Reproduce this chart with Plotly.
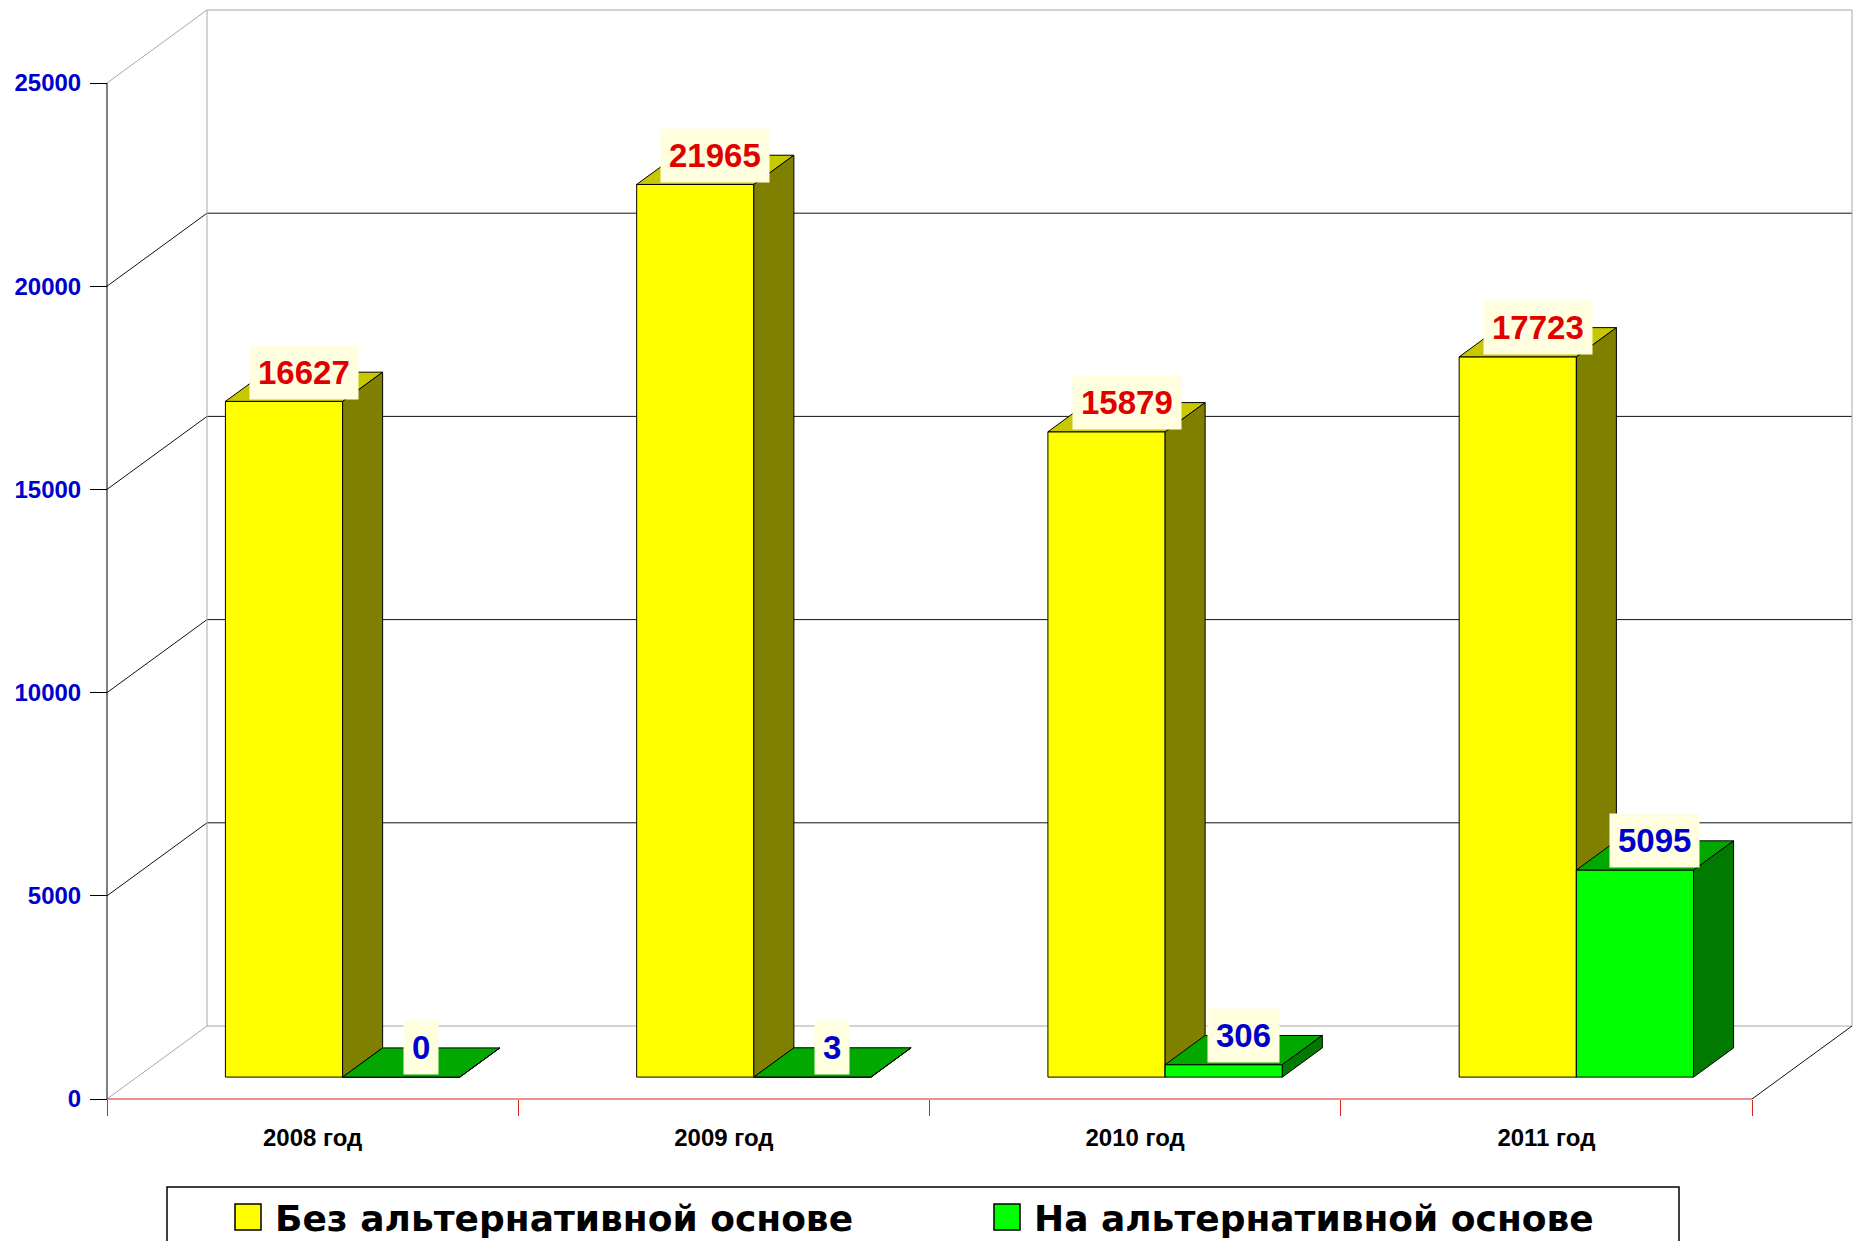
import plotly.graph_objects as go

# ---- data -------------------------------------------------------------
categories = ["2008 год", "2009 год", "2010 год", "2011 год"]
series_names = ["Без альтернативной основе", "На альтернативной основе"]
values_plain = [16627, 21965, 15879, 17723]
values_alt = [0, 3, 306, 5095]
y_ticks = [0, 5000, 10000, 15000, 20000, 25000]
y_tick_labels = ["0", "5000", "10000", "15000", "20000", "25000"]

# ---- canvas / pseudo-3D frame ------------------------------------------
W, H = 1856, 1241
ORIGIN_X, ORIGIN_Y = 107, 1099          # pixel of (category 0, value 0) on the front plane
PX_PER_CAT = 411.25                      # pixels per category slot
PX_PER_VAL = 1016 / 25000                # pixels per value unit
DEPTH_DX_PX, DEPTH_DY_PX = 100, 73       # oblique depth offset of the back wall

DU = DEPTH_DX_PX / PX_PER_CAT            # depth offset in x data units
DV = DEPTH_DY_PX / PX_PER_VAL            # depth offset in y data units
Y_TOP = y_ticks[-1]
N = len(categories)

BAR_W = 0.285                            # bar width in category units
D_FRONT, D_BACK = 0.3, 0.7               # depth slab occupied by the bars

STYLE = [
    dict(front="#FFFF00", top="#C8C800", side="#808000",
         label="#E00000", legend="#FFFF00"),
    dict(front="#00FF00", top="#00A800", side="#007A00",
         label="#0000CC", legend="#00FF00"),
]


def P(u, v, d):
    """Project (category position, value, depth 0..1) onto the 2D axes."""
    return u + d * DU, v + d * DV


fig = go.Figure()


def seg(points, color, width=1, dash="solid"):
    xs, ys = zip(*[P(*p) for p in points])
    fig.add_trace(go.Scatter(x=xs, y=ys, mode="lines",
                             line=dict(color=color, width=width, dash=dash),
                             hoverinfo="skip", showlegend=False))


def face(points, fill):
    pts = [P(*p) for p in points]
    pts.append(pts[0])
    xs, ys = zip(*pts)
    fig.add_trace(go.Scatter(x=xs, y=ys, mode="lines", fill="toself",
                             fillcolor=fill, line=dict(color="#000000", width=1),
                             hoverinfo="skip", showlegend=False))


LIGHT = "#A8A8A8"
DARK = "#111111"

# back wall gridlines and borders
for v in y_ticks:
    col = LIGHT if v in (0, Y_TOP) else DARK
    seg([(0, v, 1), (N, v, 1)], col)
    seg([(0, v, 0), (0, v, 1)], col)          # left wall diagonals
seg([(0, 0, 1), (0, Y_TOP, 1)], LIGHT)        # back wall left edge
seg([(N, 0, 1), (N, Y_TOP, 1)], LIGHT)        # back wall right edge
seg([(N, 0, 0), (N, 0, 1)], DARK)             # floor right edge

# front axes
seg([(0, 0, 0), (0, Y_TOP, 0)], "#000000")
seg([(0, 0, 0), (N, 0, 0)], "#DD2020")

# bars (front, top, side faces), yellow drawn first so green overlaps its side
annotations = []
for i in range(N):
    for s, vals in enumerate([values_plain, values_alt]):
        v = vals[i]
        st = STYLE[s]
        u0 = i + 0.5 - BAR_W + s * BAR_W
        u1 = u0 + BAR_W
        face([(u0, 0, D_FRONT), (u1, 0, D_FRONT), (u1, v, D_FRONT), (u0, v, D_FRONT)], st["front"])
        face([(u0, v, D_FRONT), (u1, v, D_FRONT), (u1, v, D_BACK), (u0, v, D_BACK)], st["top"])
        face([(u1, 0, D_FRONT), (u1, 0, D_BACK), (u1, v, D_BACK), (u1, v, D_FRONT)], st["side"])
        lx, _ = P((u0 + u1) / 2, v, (D_FRONT + D_BACK) / 2)
        _, ly = P(u0, v, D_BACK)
        annotations.append(dict(
            x=lx, y=ly, xref="x", yref="y", text=str(v), showarrow=False,
            xanchor="center", yanchor="middle", bgcolor="#FFFFE0", borderpad=8,
            font=dict(family="Liberation Sans, Arial, sans-serif", size=33,
                      color=st["label"], weight="bold")))

# ---- legend (boxed, drawn below the chart) ------------------------------
shapes = [dict(type="rect", xref="paper", yref="paper",
               x0=167 / W, x1=1679 / W, y0=-0.02, y1=(H - 1187) / H,
               line=dict(color="#000000", width=1.5), fillcolor="#FFFFFF", layer="below")]
legend_x = [235, 994]
for s, name in enumerate(series_names):
    x0 = legend_x[s]
    shapes.append(dict(type="rect", xref="paper", yref="paper",
                       x0=x0 / W, x1=(x0 + 26) / W,
                       y0=(H - 1230) / H, y1=(H - 1204) / H,
                       line=dict(color="#000000", width=1.5),
                       fillcolor=STYLE[s]["legend"]))
    annotations.append(dict(
        x=(x0 + 38) / W, y=(H - 1218) / H, xref="paper", yref="paper",
        text=name, showarrow=False, xanchor="left", yanchor="middle",
        font=dict(family="DejaVu Sans, Liberation Sans, sans-serif", size=36,
                  color="#000000", weight="bold")))

x_range = [-ORIGIN_X / PX_PER_CAT, (W - ORIGIN_X) / PX_PER_CAT]
y_range = [-(H - ORIGIN_Y) / PX_PER_VAL, ORIGIN_Y / PX_PER_VAL]

fig.update_layout(
    width=W, height=H,
    margin=dict(l=0, r=0, t=0, b=0),
    paper_bgcolor="#FFFFFF", plot_bgcolor="#FFFFFF",
    showlegend=False,
    shapes=shapes,
    annotations=annotations,
    xaxis=dict(
        range=x_range, anchor="free", position=(H - ORIGIN_Y) / H,
        showgrid=False, zeroline=False, showline=False,
        tickmode="array", tickvals=[i + 0.5 for i in range(N)], ticktext=categories,
        ticks="outside", ticklen=17, tickcolor="rgba(0,0,0,0)",
        tickfont=dict(family="Liberation Sans, Arial, sans-serif", size=24,
                      color="#000000", weight="bold"),
        minor=dict(tickmode="array", tickvals=list(range(N + 1)), ticks="outside",
                   ticklen=16, tickcolor="#DD2020", tickwidth=1, showgrid=False),
        fixedrange=True,
    ),
    yaxis=dict(
        range=y_range, anchor="free", position=ORIGIN_X / W,
        showgrid=False, zeroline=False, showline=False,
        tickmode="array", tickvals=y_ticks, ticktext=y_tick_labels,
        ticks="outside", ticklen=17, tickcolor="#000000", tickwidth=1,
        ticklabelstandoff=4,
        tickfont=dict(family="Liberation Sans, Arial, sans-serif", size=24,
                      color="#0000CC", weight="bold"),
        fixedrange=True,
    ),
)

fig.write_html("out.html")
